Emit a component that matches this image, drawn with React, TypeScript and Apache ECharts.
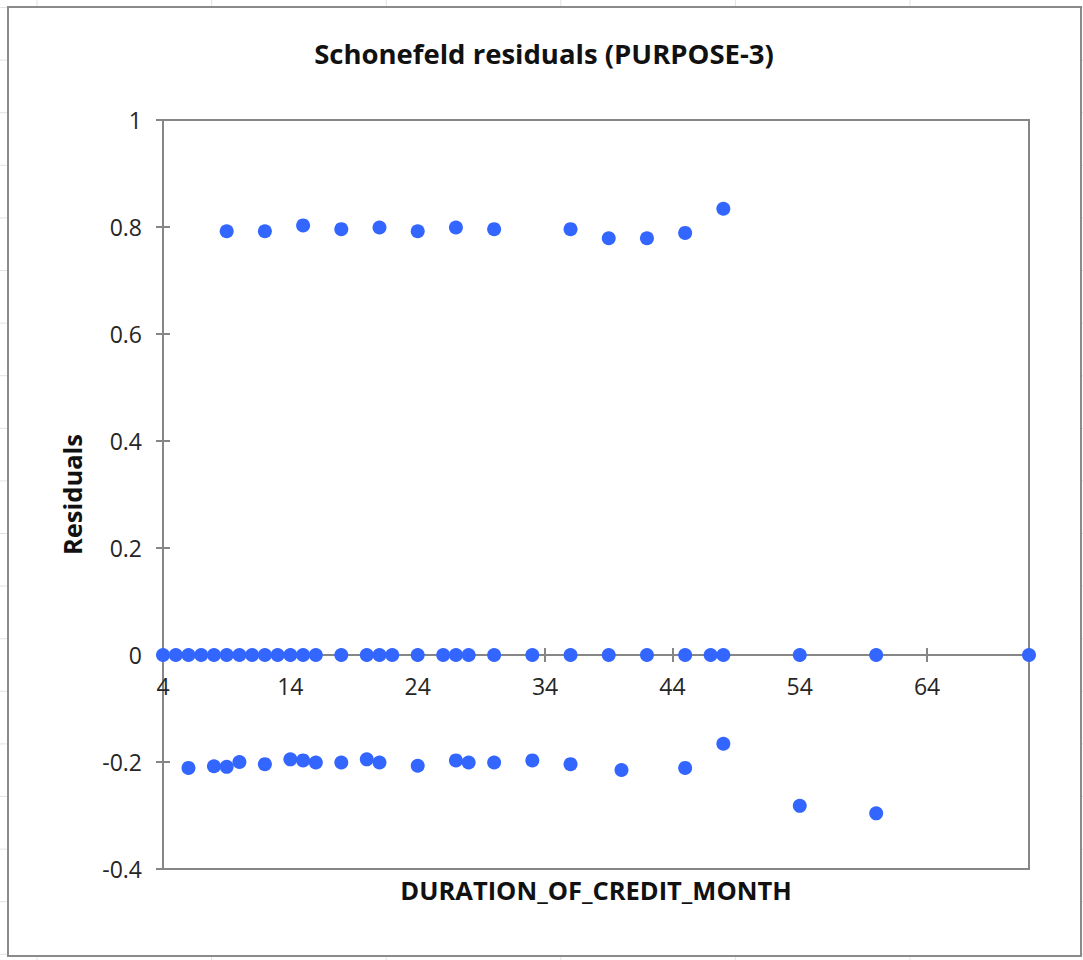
import React, { useEffect, useRef } from "react";
import * as echarts from "echarts";

const TITLE = "Schonefeld residuals (PURPOSE-3)";
const X_NAME = "DURATION_OF_CREDIT_MONTH";
const Y_NAME = "Residuals";

const X_MIN = 4;
const X_MAX = 72;
const X_INTERVAL = 10;
const Y_MIN = -0.4;
const Y_MAX = 1;
const Y_INTERVAL = 0.2;

const upperX = [9, 12, 15, 18, 21, 24, 27, 30, 36, 39, 42, 45, 48];
const upperY = [0.792, 0.792, 0.803, 0.796, 0.799, 0.792, 0.799, 0.796, 0.796, 0.779, 0.779, 0.789, 0.834];

const zeroX = [4, 5, 6, 7, 8, 9, 10, 11, 12, 13, 14, 15, 16, 18, 20, 21, 22, 24, 26, 27, 28, 30, 33, 36, 39, 42, 45, 47, 48, 54, 60, 72];
const zeroY = [0, 0, 0, 0, 0, 0, 0, 0, 0, 0, 0, 0, 0, 0, 0, 0, 0, 0, 0, 0, 0, 0, 0, 0, 0, 0, 0, 0, 0, 0, 0, 0];

const lowerX = [6, 8, 9, 10, 12, 14, 15, 16, 18, 20, 21, 24, 27, 28, 30, 33, 36, 40, 45, 48, 54, 60];
const lowerY = [-0.211, -0.208, -0.209, -0.2, -0.204, -0.195, -0.197, -0.201, -0.201, -0.195, -0.201, -0.207, -0.197, -0.201, -0.201, -0.197, -0.204, -0.215, -0.211, -0.166, -0.282, -0.296];

const FONT = "'Open Sans', 'Noto Sans', sans-serif";
const AXIS_COLOR = "#868686";
const MARKER_COLOR = "#3366FF";

const pairs = (xs: number[], ys: number[]) => xs.map((x, i) => [x, ys[i]]);

// layout (pixels)
const PLOT_LEFT = 163;
const PLOT_RIGHT = 54;
const PLOT_TOP = 120;
const PLOT_BOTTOM = 91;
const PLOT_H = 960 - PLOT_TOP - PLOT_BOTTOM;
// height of the upper part (from Y_MAX down to zero), so that its bottom edge is the zero line
const UPPER_H = (PLOT_H * (Y_MAX - 0)) / (Y_MAX - Y_MIN);

export default function App() {
  const ref = useRef<HTMLDivElement>(null);

  useEffect(() => {
    if (!ref.current) return;
    const chart = echarts.init(ref.current, undefined, { renderer: "svg" });

    const sheetLines: any[] = [];
    const colXs = [37, 211.6, 386.2, 560.8, 735.4, 910];
    colXs.forEach((x) =>
      sheetLines.push({
        type: "line",
        z: -3,
        shape: { x1: x, y1: 0, x2: x, y2: 960 },
        style: { stroke: "#e3e3e3", lineWidth: 1 },
        silent: true,
      })
    );
    for (let k = 0; k < 19; k++) {
      const y = 7.5 + 52.6 * k;
      sheetLines.push({
        type: "line",
        z: -3,
        shape: { x1: 0, y1: y, x2: 1083, y2: y },
        style: { stroke: "#e3e3e3", lineWidth: 1 },
        silent: true,
      });
    }

    const axisCommonX = {
      type: "value",
      min: X_MIN,
      max: X_MAX,
      interval: X_INTERVAL,
      splitLine: { show: false },
    };
    const axisCommonY = {
      type: "value",
      min: Y_MIN,
      max: Y_MAX,
      interval: Y_INTERVAL,
      splitLine: { show: false },
    };

    const markerStyle = { color: MARKER_COLOR, opacity: 1 };
    const tickStyle = { color: AXIS_COLOR, width: 2 };
    const labelText = { fontFamily: FONT, fontSize: 23, color: "#262626" };
    const nameText = { fontFamily: FONT, fontSize: 25.5, fontWeight: "bold", color: "#111" };

    chart.setOption({
      animation: false,
      backgroundColor: "#ffffff",
      title: {
        text: TITLE,
        left: 539,
        textAlign: "center",
        top: 34,
        textStyle: { fontFamily: FONT, fontSize: 27.5, fontWeight: "bold", color: "#111" },
      },
      grid: [
        {
          left: PLOT_LEFT,
          right: PLOT_RIGHT,
          top: PLOT_TOP,
          bottom: PLOT_BOTTOM,
          show: true,
          borderColor: AXIS_COLOR,
          borderWidth: 2,
          backgroundColor: "transparent",
          outerBoundsMode: "none",
          containLabel: false,
        },
        {
          left: PLOT_LEFT,
          right: PLOT_RIGHT,
          top: PLOT_TOP,
          height: UPPER_H,
          show: false,
          outerBoundsMode: "none",
          containLabel: false,
        },
      ],
      xAxis: [
        {
          ...axisCommonX,
          gridIndex: 0,
          position: "bottom",
          name: X_NAME,
          nameLocation: "middle",
          nameGap: 8,
          nameTextStyle: nameText,
          axisLine: { show: false, onZero: false },
          axisTick: { show: false },
          axisLabel: { show: false },
        },
        {
          ...axisCommonX,
          gridIndex: 1,
          position: "bottom",
          axisLine: { show: true, onZero: false, lineStyle: { color: AXIS_COLOR, width: 2 } },
          axisTick: { show: true, inside: false, length: 7, lineStyle: tickStyle },
          axisLabel: { show: true, margin: 19, ...labelText, showMaxLabel: false },
        },
        {
          ...axisCommonX,
          gridIndex: 1,
          position: "bottom",
          axisLine: { show: false, onZero: false },
          axisTick: { show: true, inside: true, length: 7, lineStyle: tickStyle },
          axisLabel: { show: false },
        },
      ],
      yAxis: [
        {
          ...axisCommonY,
          gridIndex: 0,
          position: "left",
          name: Y_NAME,
          nameLocation: "middle",
          nameRotate: 90,
          nameGap: 78,
          nameTextStyle: nameText,
          axisLine: { show: true, onZero: false, lineStyle: { color: AXIS_COLOR, width: 2 } },
          axisTick: { show: true, inside: false, length: 7, lineStyle: tickStyle },
          axisLabel: { show: true, margin: 21, ...labelText },
        },
        {
          ...axisCommonY,
          gridIndex: 0,
          position: "left",
          axisLine: { show: false, onZero: false },
          axisTick: { show: true, inside: true, length: 7, lineStyle: tickStyle },
          axisLabel: { show: false },
        },
        {
          type: "value",
          gridIndex: 1,
          min: 0,
          max: Y_MAX,
          show: false,
        },
      ],
      graphic: [
        ...sheetLines,
        {
          type: "rect",
          z: -2,
          shape: { x: 8, y: 7, width: 1073, height: 949 },
          style: { fill: "#ffffff", stroke: "#8a8a8a", lineWidth: 2 },
          silent: true,
        },
      ],
      series: [
        {
          name: "upper",
          type: "scatter",
          xAxisIndex: 0,
          yAxisIndex: 0,
          symbol: "circle",
          symbolSize: 14,
          itemStyle: markerStyle,
          data: pairs(upperX, upperY),
          z: 5,
        },
        {
          name: "zero",
          type: "scatter",
          xAxisIndex: 0,
          yAxisIndex: 0,
          symbol: "circle",
          symbolSize: 14,
          itemStyle: markerStyle,
          data: pairs(zeroX, zeroY),
          z: 5,
        },
        {
          name: "lower",
          type: "scatter",
          xAxisIndex: 0,
          yAxisIndex: 0,
          symbol: "circle",
          symbolSize: 14,
          itemStyle: markerStyle,
          data: pairs(lowerX, lowerY),
          z: 5,
        },
      ],
    });

    return () => chart.dispose();
  }, []);

  return (
    <div
      ref={ref}
      style={{ position: "absolute", left: 0, top: 0, width: 1083, height: 960 }}
    />
  );
}
